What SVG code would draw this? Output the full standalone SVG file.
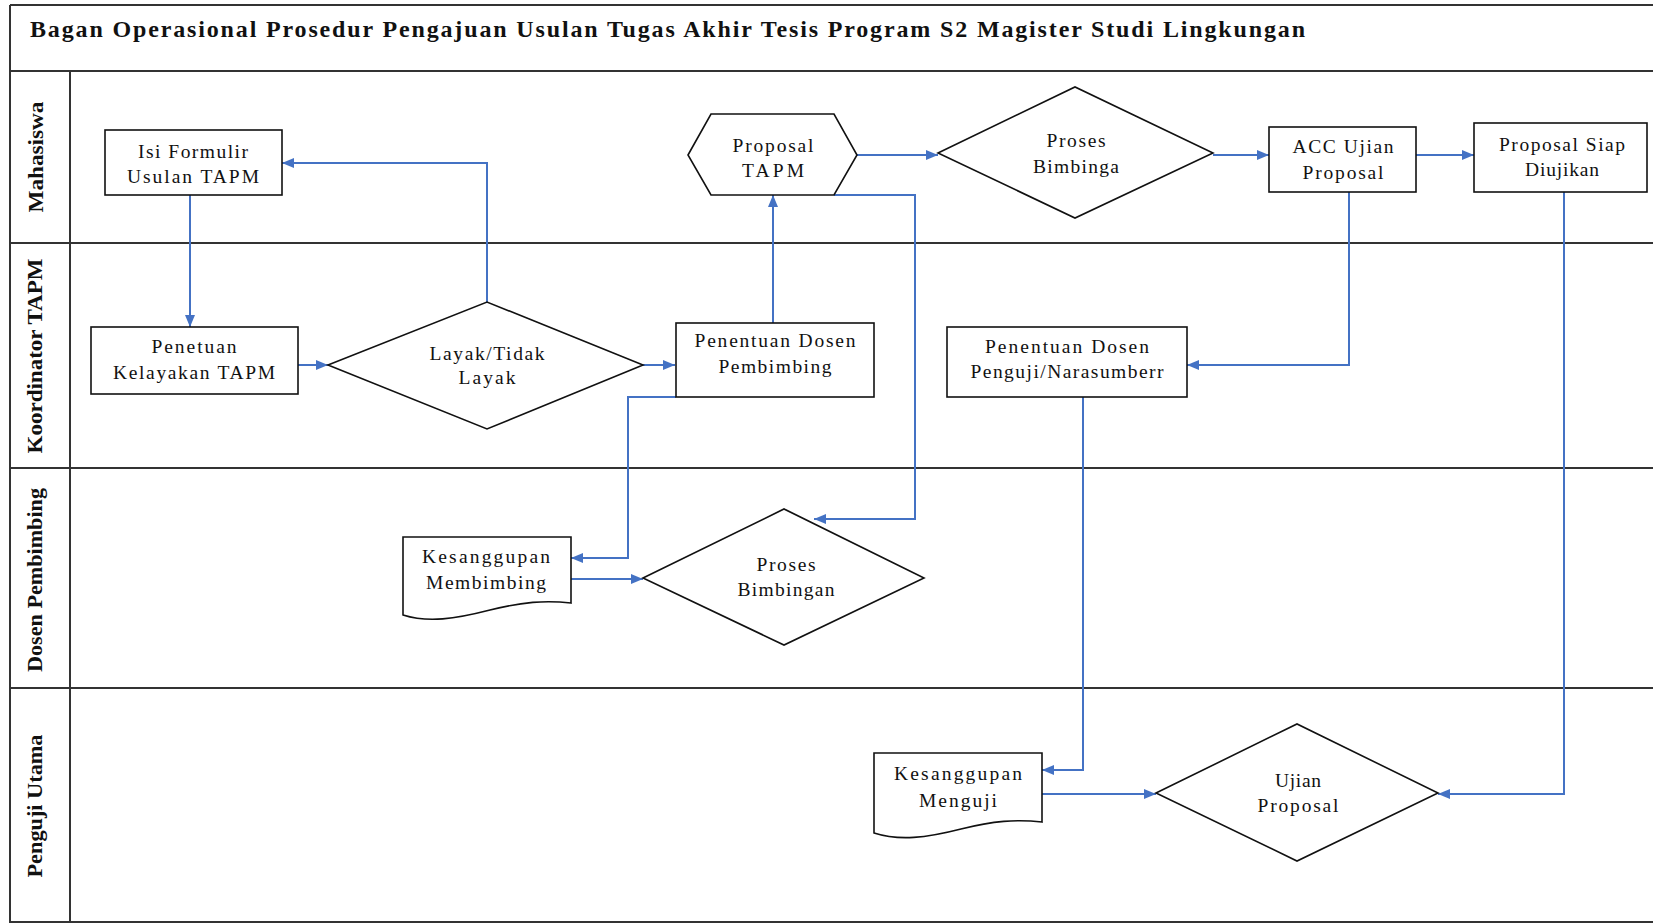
<svg xmlns="http://www.w3.org/2000/svg" width="1653" height="924" viewBox="0 0 1653 924">
<defs>
<style>
.lane{stroke:#333;stroke-width:2;fill:none}
.node{fill:#fff;stroke:#111;stroke-width:1.6}
.t{font-family:"Liberation Serif","Times New Roman",serif;font-size:19.5px;fill:#111;text-anchor:middle}
.lbl{font-family:"Liberation Serif","Times New Roman",serif;font-size:21px;font-weight:bold;fill:#111;text-anchor:middle}
.title{font-family:"Liberation Serif","Times New Roman",serif;font-size:24px;font-weight:bold;fill:#111}
.c{fill:none;stroke:#4472C4;stroke-width:2;marker-end:url(#ah)}
</style>
<marker id="ah" viewBox="0 0 12 10" refX="12" refY="5" markerWidth="12" markerHeight="10" markerUnits="userSpaceOnUse" orient="auto">
<path d="M0,0 L12,5 L0,10 z" fill="#4472C4"/>
</marker>
</defs>
<rect x="0" y="0" width="1653" height="924" fill="#fff"/>

<g id="frame">
<path class="lane" d="M10,5 H1653 M10,5 V922 H1653 M10,71 H1653 M70,71 V922 M10,243 H1653 M10,468 H1653 M10,688 H1653"/>
<text class="title" x="30" y="37" textLength="1275" lengthAdjust="spacing">Bagan Operasional Prosedur Pengajuan  Usulan Tugas Akhir Tesis Program  S2 Magister Studi  Lingkungan</text>
<text class="lbl" transform="translate(43,157) rotate(-90)" textLength="111" lengthAdjust="spacingAndGlyphs">Mahasiswa</text>
<text class="lbl" transform="translate(42,356) rotate(-90)" textLength="195" lengthAdjust="spacingAndGlyphs">Koordinator TAPM</text>
<text class="lbl" transform="translate(42,580) rotate(-90)" textLength="184" lengthAdjust="spacingAndGlyphs">Dosen Pembimbing</text>
<text class="lbl" transform="translate(42,806) rotate(-90)" textLength="143" lengthAdjust="spacingAndGlyphs">Penguji Utama</text>
</g>

<g id="connectors">
<path class="c" d="M190,195 V327"/>
<path class="c" d="M298,365 H328"/>
<path class="c" d="M487,302 V163 H282"/>
<path class="c" d="M643,365 H675"/>
<path class="c" d="M773,323 V195"/>
<path class="c" d="M857,155 H938"/>
<path class="c" d="M1213,155 H1269"/>
<path class="c" d="M1416,155 H1474"/>
<path class="c" d="M834,195 H915 V519 H814"/>
<path class="c" d="M676,397 H628 V558 H571"/>
<path class="c" d="M571,579 H643"/>
<path class="c" d="M1349,192 V365 H1187"/>
<path class="c" d="M1083,397 V770 H1042"/>
<path class="c" d="M1042,794 H1156"/>
<path class="c" d="M1564,192 V794 H1438"/>
</g>

<g id="isi-formulir">
<rect class="node" x="105" y="130" width="177" height="65"/>
<text class="t" x="193" y="158" textLength="110" lengthAdjust="spacing">Isi Formulir</text>
<text class="t" x="193" y="183" textLength="132" lengthAdjust="spacing">Usulan TAPM</text>
</g>

<g id="penetuan-kelayakan">
<rect class="node" x="91" y="327" width="207" height="67"/>
<text class="t" x="194" y="353" textLength="85" lengthAdjust="spacing">Penetuan</text>
<text class="t" x="194" y="379" textLength="162" lengthAdjust="spacing">Kelayakan TAPM</text>
</g>

<g id="layak">
<polygon class="node" points="328,365 487,302 643,365 487,429"/>
<text class="t" x="487" y="360" textLength="115" lengthAdjust="spacing">Layak/Tidak</text>
<text class="t" x="487" y="384" textLength="57" lengthAdjust="spacing">Layak</text>
</g>

<g id="penentuan-pembimbing">
<rect class="node" x="676" y="323" width="198" height="74"/>
<text class="t" x="775" y="347" textLength="161" lengthAdjust="spacing">Penentuan Dosen</text>
<text class="t" x="775" y="373" textLength="113" lengthAdjust="spacing">Pembimbing</text>
</g>

<g id="proposal-tapm">
<polygon class="node" points="688,155 711,114 834,114 857,155 834,195 711,195"/>
<text class="t" x="773" y="152" textLength="81" lengthAdjust="spacing">Proposal</text>
<text class="t" x="773" y="177" textLength="62" lengthAdjust="spacing">TAPM</text>
</g>

<g id="proses-bimbinga">
<polygon class="node" points="938,153 1075,87 1213,153 1075,218"/>
<text class="t" x="1076" y="147" textLength="59" lengthAdjust="spacing">Proses</text>
<text class="t" x="1076" y="173" textLength="86" lengthAdjust="spacing">Bimbinga</text>
</g>

<g id="acc-ujian">
<rect class="node" x="1269" y="127" width="147" height="65"/>
<text class="t" x="1343" y="153" textLength="101" lengthAdjust="spacing">ACC Ujian</text>
<text class="t" x="1343" y="179" textLength="81" lengthAdjust="spacing">Proposal</text>
</g>

<g id="proposal-siap">
<rect class="node" x="1474" y="123" width="173" height="69"/>
<text class="t" x="1562" y="151" textLength="126" lengthAdjust="spacing">Proposal Siap</text>
<text class="t" x="1562" y="176" textLength="74" lengthAdjust="spacing">Diujikan</text>
</g>

<g id="penentuan-penguji">
<rect class="node" x="947" y="327" width="240" height="70"/>
<text class="t" x="1067" y="353" textLength="164" lengthAdjust="spacing">Penentuan Dosen</text>
<text class="t" x="1067" y="378" textLength="193" lengthAdjust="spacing">Penguji/Narasumberr</text>
</g>

<g id="kesanggupan-membimbing">
<path class="node" d="M403,537 H571 V603 C545,600 522,602 490,610 C455,619 428,623 403,615 Z"/>
<text class="t" x="486" y="563" textLength="128" lengthAdjust="spacing">Kesanggupan</text>
<text class="t" x="486" y="589" textLength="120" lengthAdjust="spacing">Membimbing</text>
</g>

<g id="proses-bimbingan">
<polygon class="node" points="643,578 784,509 924,578 784,645"/>
<text class="t" x="786" y="571" textLength="59" lengthAdjust="spacing">Proses</text>
<text class="t" x="786" y="596" textLength="97" lengthAdjust="spacing">Bimbingan</text>
</g>

<g id="kesanggupan-menguji">
<path class="node" d="M874,753 H1042 V822 C1016,819 993,821 961,829 C926,838 899,841 874,833 Z"/>
<text class="t" x="958" y="780" textLength="128" lengthAdjust="spacing">Kesanggupan</text>
<text class="t" x="958" y="807" textLength="78" lengthAdjust="spacing">Menguji</text>
</g>

<g id="ujian-proposal">
<polygon class="node" points="1156,793 1297,724 1438,793 1297,861"/>
<text class="t" x="1298" y="787" textLength="46" lengthAdjust="spacing">Ujian</text>
<text class="t" x="1298" y="812" textLength="81" lengthAdjust="spacing">Proposal</text>
</g>
</svg>
